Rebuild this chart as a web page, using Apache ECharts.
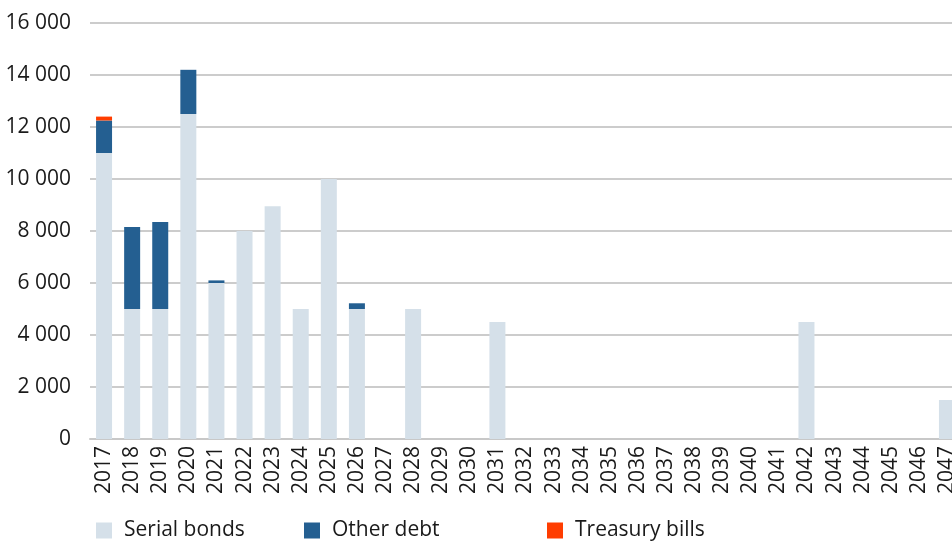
<!DOCTYPE html>
<html>
<head>
<meta charset="utf-8">
<script src="https://cdn.jsdelivr.net/npm/echarts@6/dist/echarts.min.js"></script>
<style>
  html, body { margin: 0; padding: 0; background: #ffffff; }
  #chart { width: 952px; height: 543px; }
</style>
</head>
<body>
<div id="chart"></div>
<script>
// Maturity profile of debt, by year (amounts)
const years = [
  '2017','2018','2019','2020','2021','2022','2023','2024','2025','2026',
  '2027','2028','2029','2030','2031','2032','2033','2034','2035','2036',
  '2037','2038','2039','2040','2041','2042','2043','2044','2045','2046','2047'
];
const serialBonds = [
  11000, 5000, 5000, 12500, 6000, 8000, 8950, 5000, 10000, 5000,
  0, 5000, 0, 0, 4500, 0, 0, 0, 0, 0,
  0, 0, 0, 0, 0, 4500, 0, 0, 0, 0, 1500
];
const otherDebt = [
  1250, 3150, 3350, 1700, 100, 0, 0, 0, 0, 220,
  0, 0, 0, 0, 0, 0, 0, 0, 0, 0,
  0, 0, 0, 0, 0, 0, 0, 0, 0, 0, 0
];
const treasuryBills = [
  150, 0, 0, 0, 0, 0, 0, 0, 0, 0,
  0, 0, 0, 0, 0, 0, 0, 0, 0, 0,
  0, 0, 0, 0, 0, 0, 0, 0, 0, 0, 0
];
const yTicks = { min: 0, max: 16000, interval: 2000 };

const FONT = '"Open Sans", "Liberation Sans", sans-serif';
const TEXT = '#1a1a1a';
const colors = { serial: '#d5e0e9', other: '#245f91', bills: '#ff3d00' };

function spaced(v) {
  return String(v).replace(/\B(?=(\d{3})+(?!\d))/g, ' ');
}

function legendAt(name, left) {
  return {
    data: [name],
    left: left,
    top: 520,
    padding: 0,
    orient: 'horizontal',
    icon: 'rect',
    itemWidth: 16,
    itemHeight: 16,
    itemGap: 0,
    textStyle: { fontFamily: FONT, fontSize: 21, color: TEXT, padding: [0, 0, 0, 7] },
    selectedMode: false
  };
}

const chart = echarts.init(document.getElementById('chart'), null, { renderer: 'canvas' });

// the plot runs slightly past the right edge of the canvas
chart.setOption({
  animation: false,
  backgroundColor: '#ffffff',
  grid: { left: 90, width: 871, top: 23, bottom: 104, containLabel: false, outerBoundsMode: 'none' },
  legend: [
    legendAt('Serial bonds', 96),
    legendAt('Other debt', 304),
    legendAt('Treasury bills', 547)
  ],
  xAxis: {
    type: 'category',
    data: years,
    axisLine: { show: true, lineStyle: { color: '#c8c8c8', width: 2 } },
    axisTick: { show: false },
    axisLabel: {
      rotate: 90,
      interval: 0,
      margin: 7,
      fontFamily: FONT,
      fontSize: 21,
      color: TEXT
    }
  },
  yAxis: {
    type: 'value',
    min: yTicks.min,
    max: yTicks.max,
    interval: yTicks.interval,
    axisLine: { show: false },
    axisTick: { show: false },
    splitLine: { lineStyle: { color: '#cccccc', width: 2 } },
    axisLabel: {
      margin: 19,
      fontFamily: FONT,
      fontSize: 21,
      color: TEXT,
      formatter: spaced
    }
  },
  series: [
    {
      name: 'Serial bonds', type: 'bar', stack: 'debt', data: serialBonds,
      barWidth: 16, itemStyle: { color: colors.serial }
    },
    {
      name: 'Other debt', type: 'bar', stack: 'debt', data: otherDebt,
      barWidth: 16, itemStyle: { color: colors.other }
    },
    {
      name: 'Treasury bills', type: 'bar', stack: 'debt', data: treasuryBills,
      barWidth: 16, itemStyle: { color: colors.bills }
    }
  ]
});
</script>
</body>
</html>
